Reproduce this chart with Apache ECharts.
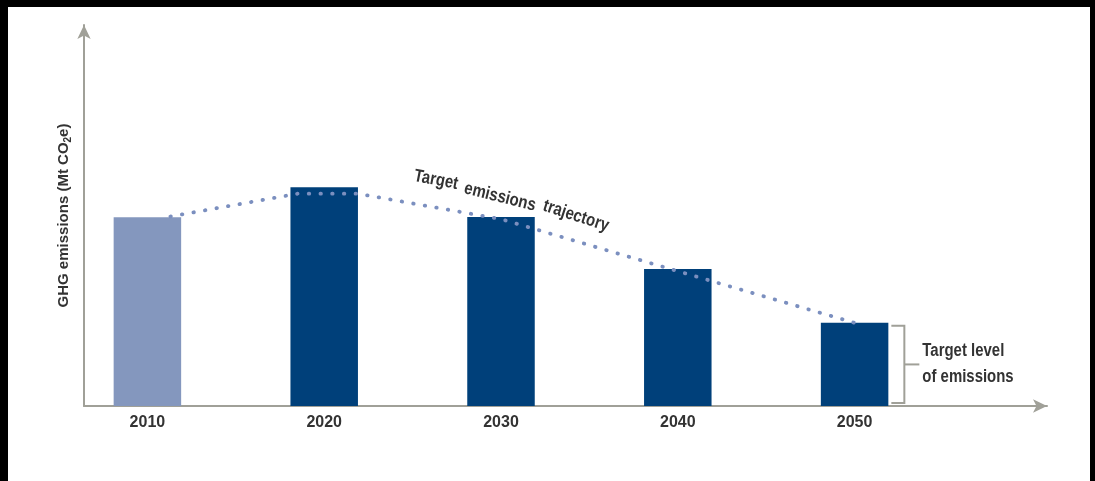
<!DOCTYPE html>
<html>
<head>
<meta charset="utf-8">
<title>GHG emissions trajectory</title>
<script src="https://cdn.jsdelivr.net/npm/echarts@6/dist/echarts.min.js"></script>
<style>
  html, body { margin: 0; padding: 0; background: #fff; }
  #chart { position: absolute; left: 0; top: 0; width: 1095px; height: 481px; }
  #frame {
    position: absolute; left: 0; top: 0; width: 1095px; height: 481px;
    box-sizing: border-box; border-style: solid; border-color: #000;
    border-width: 7px 5px 0 8px; pointer-events: none;
  }
</style>
</head>
<body>
<div id="chart"></div>
<div id="frame"></div>
<script>
// Emissions by decade (Mt CO2e, relative scale)
const years = ['2010', '2020', '2030', '2040', '2050'];
const emissions = [50.4, 58.4, 50.5, 36.6, 22.2];
const baseYear = '2010';

// Target emissions trajectory: year, level
const trajectoryYears = [2011.3, 2018.5, 2021.9, 2030, 2040, 2050];
const trajectoryLevels = [50.6, 56.7, 56.7, 49.9, 36.0, 22.2];

const FONT = "'Liberation Sans', Arial, sans-serif";
const TEXT = '#333333';
const AXIS = '#a0a098';
const BAR_DARK = '#00407a';
const BAR_LIGHT = '#8497be';
const DOTS = '#7b8fbf';
const BAR_W = 67.5;
const NARROW = 0.83;

const chart = echarts.init(document.getElementById('chart'), null, { renderer: 'canvas' });

const frameAxis = {
  show: true,
  lineStyle: { color: AXIS, width: 2 },
  symbol: ['none', 'arrow'],
  symbolSize: [10, 14]
};

chart.setOption({
  animation: false,
  grid: [
    { left: 59, right: 152, top: 31.5, bottom: 75 },
    { left: 84, right: 48, top: 25, bottom: 75 }
  ],
  xAxis: [
    {
      type: 'category', gridIndex: 0, data: years,
      axisLine: { show: false }, axisTick: { show: false },
      axisLabel: { margin: 9, color: TEXT, fontFamily: FONT, fontWeight: 'bold', fontSize: 16 }
    },
    { type: 'value', gridIndex: 0, min: 2005, max: 2055, show: false },
    {
      type: 'value', gridIndex: 1, min: 0, max: 1,
      axisLine: frameAxis, axisTick: { show: false }, axisLabel: { show: false }, splitLine: { show: false }
    }
  ],
  yAxis: [
    { type: 'value', gridIndex: 0, min: 0, max: 100, show: false },
    {
      type: 'value', gridIndex: 1, min: 0, max: 1,
      axisLine: frameAxis, axisTick: { show: false }, axisLabel: { show: false }, splitLine: { show: false },
      name: '{a|GHG emissions (Mt CO}{s|2}{a|e)}',
      nameLocation: 'middle', nameGap: 11,
      nameTextStyle: {
        rich: {
          a: { fontFamily: FONT, fontWeight: 'bold', fontSize: 15, color: TEXT, lineHeight: 18 },
          s: { fontFamily: FONT, fontWeight: 'bold', fontSize: 10, color: TEXT, lineHeight: 8, verticalAlign: 'bottom' }
        }
      }
    }
  ],
  series: [
    {
      type: 'bar', xAxisIndex: 0, yAxisIndex: 0, data: emissions, barWidth: BAR_W, z: 2,
      itemStyle: { color: p => (p.name === baseYear ? BAR_LIGHT : BAR_DARK) }
    },
    {
      type: 'line', xAxisIndex: 1, yAxisIndex: 0, z: 3, symbol: 'none', silent: true,
      data: trajectoryYears.map((y, i) => [y, trajectoryLevels[i]]),
      lineStyle: { color: DOTS, width: 3.8, type: [0.5, 11.2], cap: 'round' }
    }
  ]
});

// Bracket marking the 2050 target level, placed from the 2050 bar itself
const last = years.length - 1;
const topPt = chart.convertToPixel({ gridIndex: 0 }, [last, emissions[last]]);
const basePt = chart.convertToPixel({ gridIndex: 0 }, [last, 0]);
const barRight = topPt[0] + BAR_W / 2;
const vx = barRight + 16;
const yTop = topPt[1] + 3;
const yBot = basePt[1] - 3;
const yMid = (yTop + yBot) / 2;

const boldFont = 'bold 18px ' + FONT;
const word = (text, x, y, deg) => ({
  type: 'text', x, y, rotation: -deg * Math.PI / 180, scaleX: NARROW, silent: true,
  style: { text, fill: TEXT, font: boldFont, align: 'center', verticalAlign: 'middle' }
});

chart.setOption({
  graphic: [
    {
      type: 'polyline', silent: true,
      shape: { points: [[barRight + 3, yTop], [vx, yTop], [vx, yBot], [barRight + 3, yBot]] },
      style: { stroke: AXIS, lineWidth: 2, fill: null }
    },
    {
      type: 'line', silent: true,
      shape: { x1: vx, y1: yMid, x2: vx + 15, y2: yMid },
      style: { stroke: AXIS, lineWidth: 2 }
    },
    {
      type: 'text', x: vx + 18, y: yMid, scaleX: NARROW, silent: true,
      style: {
        text: 'Target level\nof emissions', fill: TEXT, font: boldFont,
        align: 'left', verticalAlign: 'middle', lineHeight: 26
      }
    },
    word('Target', 436, 180, 11),
    word('emissions', 500, 197, 14),
    word('trajectory', 576, 216, 18)
  ]
});
</script>
</body>
</html>
